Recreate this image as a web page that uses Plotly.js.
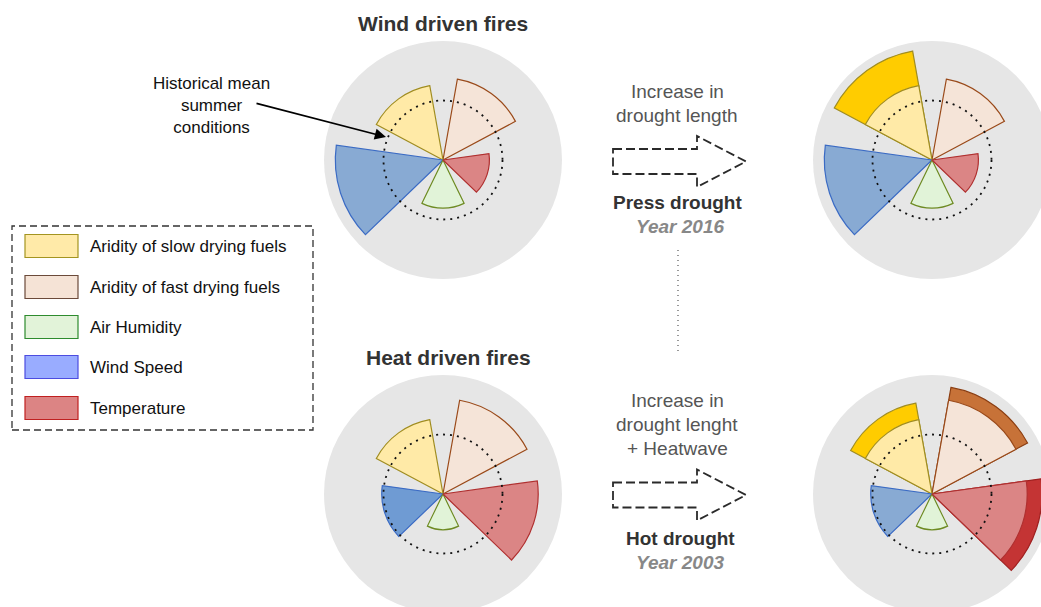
<!DOCTYPE html>
<html>
<head>
<meta charset="utf-8">
<script src="https://cdn.plot.ly/plotly-3.0.1.min.js"></script>
<style>
html,body{margin:0;padding:0;overflow:hidden;background:#fff;}
#chart{width:1080px;height:640px;}
</style>
</head>
<body>
<div id="chart"></div>
<script>
// ---------- data (historical mean summer conditions = 1) ----------
const categories = ['Aridity of fast drying fuels','Aridity of slow drying fuels','Wind Speed','Air Humidity','Temperature'];
const windDriven   = [1.38, 1.27, 1.81, 0.81, 0.78];
const pressDrought = [null, 1.86, null, null, null];
const heatDriven   = [1.60, 1.27, 1.03, 0.60, 1.60];
const hotDrought   = [1.82, 1.55, null, null, 1.85];
const legendLabels = ['Aridity of slow drying fuels','Aridity of fast drying fuels','Air Humidity','Wind Speed','Temperature'];

// ---------- styles ----------
const baseFill   = ['#f5e4d8','#ffeaa7','#88aad3','#e1f3d8','#db8585'];
const baseLine   = ['#9a4a1a','#a08d22','#3b6bc4','#6e8b23','#b03030'];
const heatFillBL = ['#f5e4d8','#ffeaa7','#6f9bd3','#e1f3d8','#db8585'];
const extraFill  = ['#c77238','#ffcc00','#88aad3','#e1f3d8','#c43434'];
const extraLine  = ['#8b3e12','#a08d22','#3b6bc4','#6e8b23','#a02020'];
const legFill = ['#ffeaa8','#f5e3d6','#e2f3d9','#99acff','#dc8484'];
const legLine = ['#a39420','#6b4a3a','#2e8b2e','#4c4ce0','#c02020'];

const W = 1080, H = 640;
const px = x => x / W;
const py = y => 1 - y / H;
const R = 119;
const centers = {polar:[443,160], polar2:[932,160], polar3:[443,494], polar4:[932,494]};

function polarLayout(c){
  return {
    domain:{x:[px(c[0]-R), px(c[0]+R)], y:[py(c[1]+R), py(c[1]-R)]},
    bgcolor:'#e6e6e6',
    barmode:'overlay',
    radialaxis:{range:[0,2], visible:false},
    angularaxis:{visible:false, type:'category', categoryorder:'array', categoryarray:categories,
                 rotation:54, direction:'counterclockwise'}
  };
}
function bars(r, fill, line, sub){
  return {type:'barpolar', r:r, theta:categories, width:0.72, subplot:sub,
          marker:{color:fill, line:{color:line, width:1.2}}, hoverinfo:'skip', showlegend:false};
}

const data = [
  bars(windDriven, baseFill, baseLine, 'polar'),
  bars(pressDrought, extraFill, extraLine, 'polar2'),
  bars(windDriven, baseFill, baseLine, 'polar2'),
  bars(heatDriven, heatFillBL, baseLine, 'polar3'),
  bars(hotDrought, extraFill, extraLine, 'polar4'),
  bars(heatDriven, baseFill, baseLine, 'polar4')
];

const shapes = [];
const annotations = [];
// dotted historical mean rings
Object.values(centers).forEach(c => {
  const rr = R/2;
  shapes.push({type:'circle', xref:'paper', yref:'paper', layer:'above',
    x0:px(c[0]-rr), x1:px(c[0]+rr), y0:py(c[1]+rr), y1:py(c[1]-rr),
    line:{color:'#111', width:1.8, dash:'2px,5px'}});
});
// dashed arrows
function arrowPath(yc){
  const pts = [[613,yc-12.5],[697,yc-12.5],[697,yc-25.5],[746,yc],[697,yc+25.5],[697,yc+12.5],[613,yc+12.5]];
  return 'M' + pts.map(p => px(p[0]) + ',' + py(p[1])).join(' L') + ' Z';
}
[161.5, 495].forEach(yc => shapes.push({type:'path', xref:'paper', yref:'paper', layer:'above',
  path:arrowPath(yc), line:{color:'#2a2a2a', width:1.8, dash:'9px,4px'}}));
// vertical dotted connector
shapes.push({type:'line', xref:'paper', yref:'paper', x0:px(678), x1:px(678), y0:py(250), y1:py(352),
  line:{color:'#555', width:1.2, dash:'1px,4px'}});
// legend box
shapes.push({type:'rect', xref:'paper', yref:'paper', x0:px(12), x1:px(313), y0:py(430), y1:py(226),
  line:{color:'#333', width:1.3, dash:'7px,4px'}});
const rowY = [246, 287, 327, 367, 408];
legendLabels.forEach((lab, i) => {
  shapes.push({type:'rect', xref:'paper', yref:'paper', x0:px(25), x1:px(78), y0:py(rowY[i]+11.5), y1:py(rowY[i]-11.5),
    fillcolor:legFill[i], line:{color:legLine[i], width:1.2}});
  annotations.push({xref:'paper', yref:'paper', x:px(88), y:py(rowY[i]), xanchor:'left', yanchor:'middle',
    text:lab, showarrow:false, font:{size:17, color:'#111'}});
});

function txt(x, y, t, size, color, extra){
  annotations.push(Object.assign({xref:'paper', yref:'paper', x:px(x), y:py(y), xanchor:'center', yanchor:'middle',
    text:t, showarrow:false, font:{size:size, color:color}}, extra||{}));
}
txt(443, 24, '<b>Wind driven fires</b>', 21, '#333');
txt(448, 357, '<b>Heat driven fires</b>', 21, '#333');
txt(211, 105, 'Historical mean<br>summer<br>conditions', 17, '#111', {align:'center'});
txt(677, 91, 'Increase in', 19, '#555');
txt(677, 115, 'drought length', 19, '#555');
txt(677, 202, '<b>Press drought</b>', 19, '#333');
txt(680, 226, '<b><i>Year 2016</i></b>', 19, '#888');
txt(677, 400, 'Increase in', 19, '#555');
txt(677, 424, 'drought lenght', 19, '#555');
txt(677, 448, '+ Heatwave', 19, '#555');
txt(680, 538, '<b>Hot drought</b>', 19, '#333');
txt(680, 562, '<b><i>Year 2003</i></b>', 19, '#888');
// pointer arrow
annotations.push({xref:'paper', yref:'paper', x:px(386), y:py(137), ax:-131, ay:-34, axref:'pixel', ayref:'pixel',
  text:'', showarrow:true, arrowhead:2, arrowsize:1.4, arrowwidth:1.6, arrowcolor:'#000'});

const layout = {
  width:W, height:H, margin:{l:0,r:0,t:0,b:0},
  paper_bgcolor:'#fff', showlegend:false,
  font:{family:'"Liberation Sans", Arial, sans-serif'},
  polar:polarLayout(centers.polar), polar2:polarLayout(centers.polar2),
  polar3:polarLayout(centers.polar3), polar4:polarLayout(centers.polar4),
  shapes:shapes, annotations:annotations
};
Plotly.newPlot('chart', data, layout, {displayModeBar:false, staticPlot:true});
</script>
</body>
</html>
